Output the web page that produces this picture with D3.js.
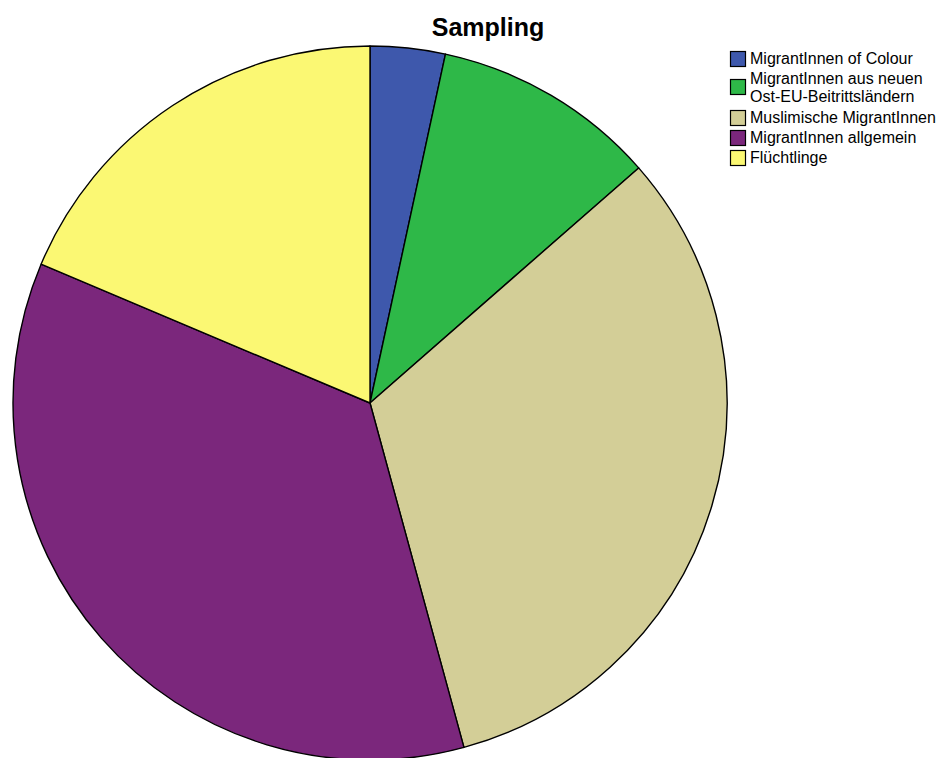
<!DOCTYPE html>
<html>
<head>
<meta charset="utf-8">
<script src="https://cdn.jsdelivr.net/npm/d3@7"></script>
<style>
  body { margin: 0; background: #fff; }
  svg { display: block; }
</style>
</head>
<body>
<div class="bigvis"></div>
<script>
var width = 942
var height = 758

// data (counts, clockwise from 12 o'clock)
var categories = ["MigrantInnen of Colour", "MigrantInnen aus neuen Ost-EU-Beitrittsländern", "Muslimische MigrantInnen", "MigrantInnen allgemein", "Flüchtlinge"]
var legendLines = [["MigrantInnen of Colour"], ["MigrantInnen aus neuen", "Ost-EU-Beitrittsländern"], ["Muslimische MigrantInnen"], ["MigrantInnen allgemein"], ["Flüchtlinge"]]
var values = [2, 6, 19, 21, 11]
var colors = ["#3e58ac", "#2eb848", "#d3ce97", "#7b277c", "#fbf873"]

var cx = 370, cy = 403, radius = 357

var svg = d3.select(".bigvis").append("svg")
    .attr("width", width)
    .attr("height", height)

var color = d3.scaleOrdinal().domain(categories).range(colors)

var pie = d3.pie().sort(null).value(function(d, i){ return values[i] })
var arc = d3.arc().innerRadius(0).outerRadius(radius)

svg.append("g")
    .attr("transform", "translate(" + cx + "," + cy + ")")
  .selectAll("path")
  .data(pie(categories))
  .enter().append("path")
    .attr("d", arc)
    .attr("fill", function(d){ return color(d.data) })
    .attr("stroke", "#000")
    .attr("stroke-width", 1.4)
    .attr("stroke-linejoin", "round")

svg.append("text")
    .attr("x", 488)
    .attr("y", 36)
    .attr("text-anchor", "middle")
    .style("font-family", "'Liberation Sans', Arial, sans-serif")
    .style("font-weight", "bold")
    .style("font-size", "25px")
    .text("Sampling")

// legend
var legend = svg.append("g")
var baseY = 64
var lineGap = 17.5
legendLines.forEach(function(lines, i){
  var g = legend.append("g")
  var mid = baseY - 5.5 + (lines.length - 1) * lineGap / 2
  g.append("rect")
      .attr("x", 730.5).attr("y", Math.round(mid - 8) + 0.5)
      .attr("width", 15).attr("height", 15)
      .attr("fill", color(categories[i]))
      .attr("stroke", "#000")
      .attr("stroke-width", 1.2)
  lines.forEach(function(t, j){
    g.append("text")
        .attr("x", 750)
        .attr("y", baseY + j * lineGap)
        .style("font-family", "'Liberation Sans', Arial, sans-serif")
        .style("font-size", "16px")
        .attr("fill", "#000")
        .text(t)
  })
  baseY += 20 + (lines.length - 1) * 19
})
</script>
</body>
</html>
